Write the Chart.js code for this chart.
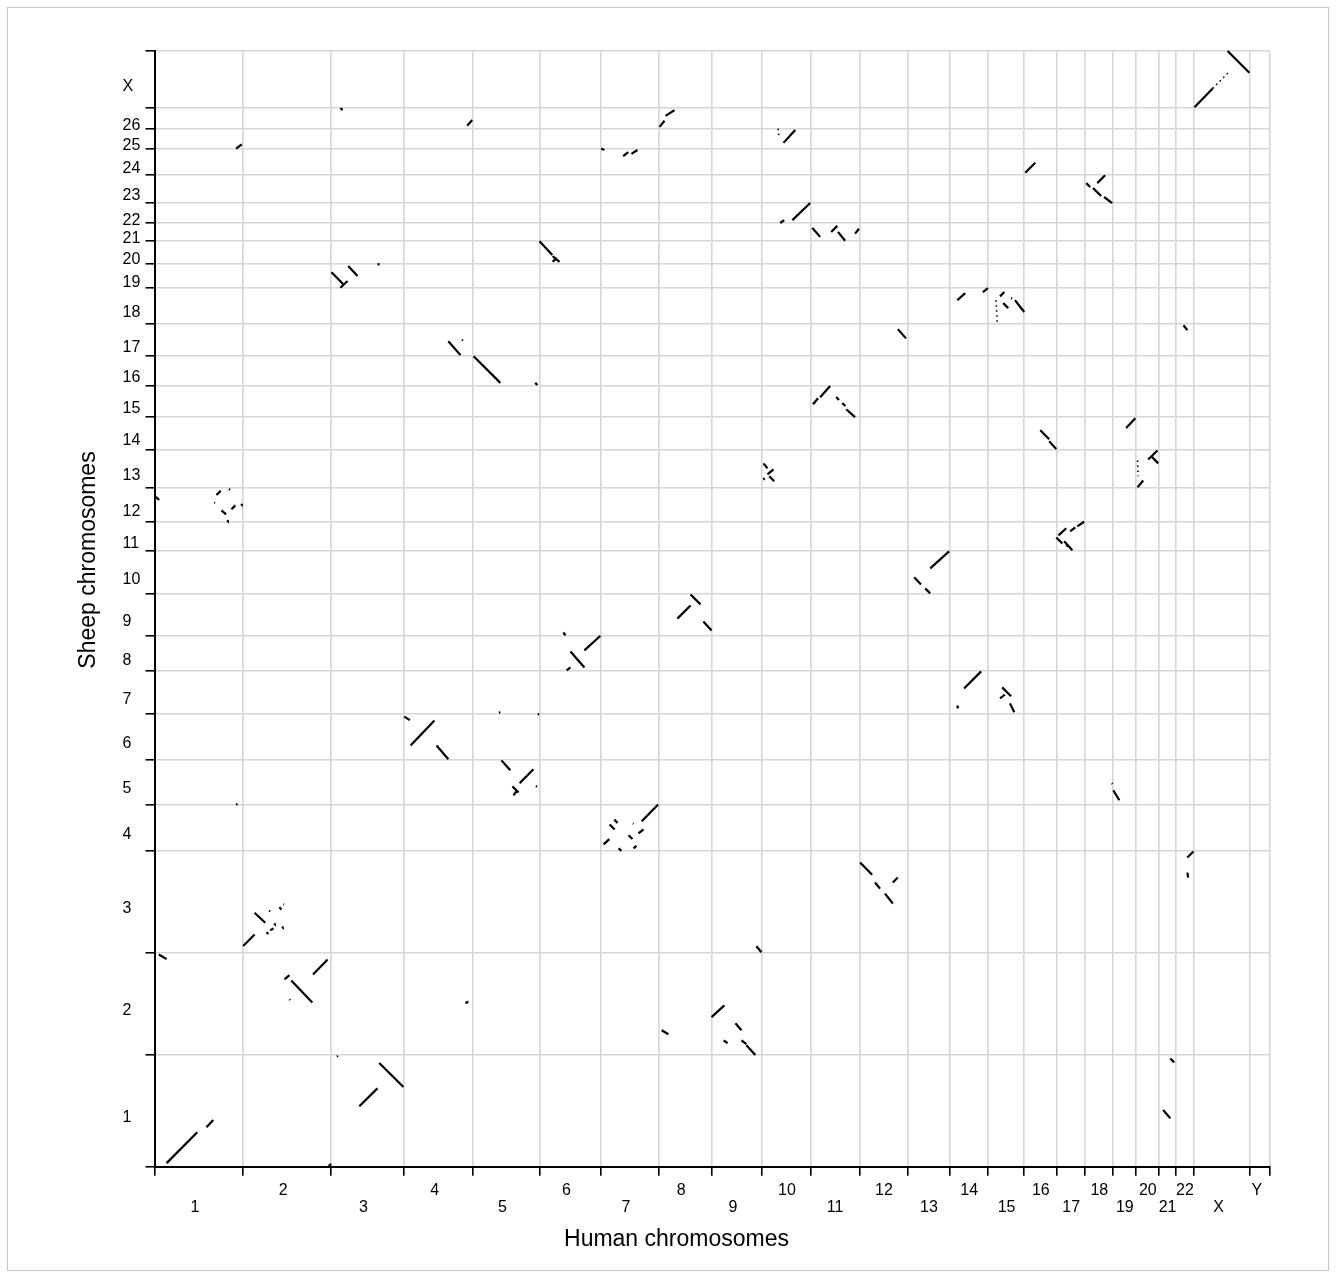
<!DOCTYPE html>
<html><head><meta charset="utf-8">
<script src="https://cdn.jsdelivr.net/npm/chart.js@4.4.1/dist/chart.umd.min.js"></script>
<style>
html,body{margin:0;padding:0;background:#fff;}
#wrap{position:relative;width:1336px;height:1279px;}
#frame{position:absolute;left:7px;top:7px;width:1322px;height:1264px;border:1px solid #c8c8c8;box-sizing:border-box;pointer-events:none;}
</style></head><body>
<div id="wrap"><canvas id="c" width="1336" height="1279"></canvas><div id="frame"></div></div>
<script>
// Human chromosomes (x axis) and their lengths (Mb)
const humanChr = ['1','2','3','4','5','6','7','8','9','10','11','12','13','14','15','16','17','18','19','20','21','22','X','Y'];
const humanLen = [249,247,204,195,186,173,162,148,142,137,136,135,118,108,102,90,81,77,66,63,48,50,158,57];
// Sheep chromosomes (y axis) and their lengths
const sheepChr = ['1','2','3','4','5','6','7','8','9','10','11','12','13','14','15','16','17','18','19','20','21','22','23','24','25','26','X'];
const sheepLen = [314,288,284,131,127,127,121,99,119,119,83,95,106,92,88,83,90,102,67,65,50,56,79,74,56,59,159];

// Conserved segments: [human chr, human start, human end, sheep chr, sheep start, sheep end]
const segments = [
 ['1',34,120,'1',10,97],['1',146,165,'1',111,131],['1',12,34,'2',282,269],
 ['1',4,13,'12',69,60],['1',174,186,'12',74,86],['1',168,170,'12',53,52],['1',188,201,'12',31,20],
 ['1',216,227,'12',34,45],['1',209,212,'12',91,89],['1',243,245,'12',49,47],['1',204,206,'12',3,1],
 ['1',229,245,'25',0,12],['1',229,231,'5',1,2],
 ['2',0,32,'3',18,50],['2',32,62,'3',111,83],['2',73,76,'3',117,115],['2',102,107,'3',127,120],
 ['2',113,115,'3',135,134],['2',87,89,'3',81,79],['2',65,71,'3',56,52],['2',76,85,'3',62,67],['2',109,111,'3',72,70],
 ['2',196,237,'2',226,268],['2',135,194,'2',209,147],['2',116,130,'2',212,224],['2',130,132,'2',156,154],
 ['2',239,247,'1',0,8],
 ['3',16,19,'1',309,311],['3',79,130,'1',170,220],['3',135,203,'1',291,224],
 ['3',1,34,'19',44,10],['3',48,74,'19',61,33],['3',26,46,'19',0,19],['3',26,32,'26',58,52],['3',130,136,'19',66,66],
 ['4',19,86,'6',39,109],['4',92,125,'6',39,0],['4',1,17,'6',120,110],['4',125,159,'17',42,3],['4',163,166,'17',46,44],
 ['4',173,181,'2',145,150],['4',178,192,'26',8,24],
 ['5',1,76,'16',83,8],['5',174,180,'16',8,2],['5',79,104,'5',124,96],['5',130,169,'5',60,99],['5',110,127,'5',51,34],
 ['5',113,121,'5',26,37],['5',176,179,'5',52,50],['5',72,76,'7',4,5],['5',181,185,'6',127,126],
 ['6',126,171,'8',58,99],['6',87,126,'8',55,10],['6',67,73,'9',9,1],['6',76,87,'8',2,10],
 ['6',0,36,'20',64,25],['6',37,56,'20',22,6],['6',37,48,'20',6,17],
 ['7',114,160,'4',84,131],['7',7,23,'4',19,34],['7',24,38,'4',75,61],['7',37,46,'4',89,79],['7',49,57,'4',8,1],
 ['7',89,91,'4',78,77],['7',77,88,'4',45,34],['7',105,119,'4',50,61],['7',91,99,'4',8,15],
 ['7',0,9,'24',74,70],['7',62,76,'24',53,64],['7',85,102,'24',59,70],
 ['8',52,89,'9',48,85],['8',89,117,'9',116,88],['8',125,148,'9',40,15],['8',8,27,'2',69,58],
 ['8',2,16,'26',5,22],['8',19,44,'26',36,52],
 ['9',0,36,'2',106,139],['9',67,84,'2',89,69],['9',98,123,'2',27,0],['9',34,45,'2',41,33],['9',84,98,'2',41,30],
 ['9',126,140,'3',17,0],
 ['10',4,15,'13',68,54],['10',15,32,'13',37,51],['10',20,34,'13',32,18],['10',3,5,'13',26,25],
 ['10',85,135,'22',8,56],['10',51,62,'22',0,8],['10',60,93,'25',16,52],
 ['11',6,20,'15',36,53],['11',26,54,'15',56,87],['11',71,79,'15',56,48],['11',99,124,'15',22,0],['11',88,97,'15',39,31],
 ['11',4,26,'21',36,11],['11',57,74,'21',25,42],['11',76,96,'21',25,0],['11',124,135,'21',20,34],
 ['12',2,36,'3',252,218],['12',72,94,'3',165,137],['12',94,108,'3',196,210],['12',44,58,'3',196,179],
 ['12',108,131,'17',76,50],
 ['13',64,117,'10',70,118],['13',19,38,'10',45,25],['13',50,64,'10',14,0],
 ['14',41,89,'7',72,120],['14',22,24,'7',24,16],['14',22,44,'18',67,87],['14',94,108,'18',90,101],
 ['15',40,65,'7',75,50],['15',34,48,'7',44,55],['15',62,74,'7',30,5],
 ['15',76,102,'18',67,34],['15',34,46,'18',78,90],['15',43,57,'18',59,45],['15',65,68,'18',73,72],
 ['16',45,70,'14',55,30],['16',70,90,'14',24,2],['16',3,31,'24',6,34],
 ['17',0,17,'11',38,21],['17',6,28,'11',44,64],['17',22,45,'11',27,2],['17',39,53,'11',55,66],
 ['17',59,78,'11',69,82],['17',28,30,'11',16,15],
 ['18',34,56,'23',56,78],['18',3,14,'23',56,45],['18',22,45,'23',42,20],['18',53,76,'23',17,0],
 ['19',2,19,'5',40,12],['18',75,77,'5',60,58],['19',38,64,'14',61,89],
 ['20',34,60,'13',79,104],['20',43,62,'13',88,68],['20',4,20,'13',1,20],
 ['21',13,33,'1',159,136],['21',33,44,'1',304,293],
 ['22',33,50,'3',266,283],['22',33,35,'3',224,210],['22',22,33,'17',87,73],
 ['X',3,54,'X',1,54],['X',96,157,'X',159,98]
];
// Weakly supported segments (dotted)
const dottedSegments = [
 ['X',54,98,'X',54,98],['15',23,26,'18',67,6],['20',4,6,'13',76,32],['10',45,48,'25',56,28]
];

function cumul(arr){const o=[];let s=0;arr.forEach(v=>{o.push(s);s+=v;});o.push(s);return o;}
const hOff = cumul(humanLen), sOff = cumul(sheepLen);
const hTotal = hOff[hOff.length-1], sTotal = sOff[sOff.length-1];
const hx = (c,p)=>hOff[humanChr.indexOf(c)]+p;
const sy = (c,p)=>sOff[sheepChr.indexOf(c)]+p;

const datasets = [];
function addSeg(s, dotted){
  datasets.push({
    data:[{x:hx(s[0],s[1]),y:sy(s[3],s[4])},{x:hx(s[0],s[2]),y:sy(s[3],s[5])}],
    showLine:true, borderColor:'#000', borderWidth:dotted?1.6:2.2, pointRadius:0,
    borderDash: dotted?[1.5,3.5]:[], borderCapStyle:'butt', clip:false
  });
}
segments.forEach(s=>addSeg(s,false));
dottedSegments.forEach(s=>addSeg(s,true));

const FONT = '"Liberation Sans", Arial, Helvetica, sans-serif';
const labelPlugin = {
  id:'chrLabels',
  afterDraw(chart){
    const {ctx, chartArea:a, scales:{x,y}} = chart;
    ctx.save();
    ctx.fillStyle='#000';
    ctx.font='16px '+FONT;
    ctx.textAlign='left'; ctx.textBaseline='alphabetic';
    humanChr.forEach((c,i)=>{
      const px = x.getPixelForValue(hOff[i]+humanLen[i]/2) - 8.4;
      ctx.fillText(c, px, a.bottom + (i%2===0 ? 45 : 28.3));
    });
    sheepChr.forEach((c,i)=>{
      const py = y.getPixelForValue(sOff[i]+sheepLen[i]/2) + 11.5;
      ctx.fillText(c, a.left-32, py);
    });
    ctx.font='23px '+FONT;
    ctx.textAlign='center';
    ctx.fillText('Human chromosomes', a.left+522, a.bottom+79.5);
    ctx.translate(a.left-60, 560);
    ctx.rotate(-Math.PI/2);
    ctx.fillText('Sheep chromosomes', 0, 0);
    ctx.restore();
  }
};

function axis(total, offs){
  return {
    type:'linear', min:0, max:total,
    ticks:{display:false},
    afterBuildTicks:(sc)=>{ sc.ticks = offs.map(v=>({value:v})); },
    grid:{color:'#d6d6d6', lineWidth:1.6, drawTicks:true, tickLength:9, tickColor:'#000', tickWidth:1.6},
    border:{display:true, color:'#000', width:2}
  };
}

new Chart(document.getElementById('c'), {
  type:'scatter',
  data:{datasets},
  options:{
    responsive:false, animation:false, devicePixelRatio:1,
    layout:{padding:{left:145.5, right:66, top:51, bottom:103.3}},
    plugins:{legend:{display:false}, tooltip:{enabled:false}},
    scales:{ x:axis(hTotal,hOff), y:axis(sTotal,sOff) }
  },
  plugins:[labelPlugin]
});
</script>
</body></html>
